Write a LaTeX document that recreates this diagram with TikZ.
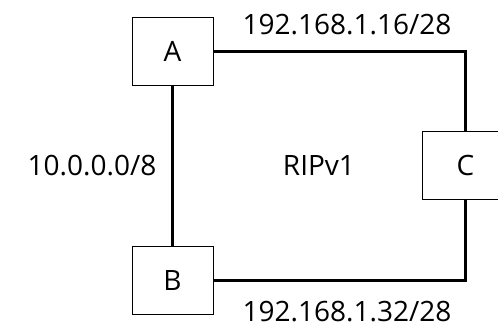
\documentclass[tikz,border=0pt]{standalone}
\usepackage{fontspec}
\setmainfont{Open Sans}
\usetikzlibrary{positioning, calc}
\tikzset{
  router/.style={rectangle, draw, line width=0.8pt, minimum width=81pt, minimum height=68pt,
                 inner sep=0pt, font=\fontsize{28}{32}\selectfont},
  link/.style={line width=3.5pt},
  lbl/.style={font=\fontsize{28}{32}\selectfont, inner sep=0pt},
}

\begin{document}
\begin{tikzpicture}[x=1pt, y=1pt]
  \useasboundingbox (0,0) rectangle (498,327);
  \node[router] (ra) at (172.5,275.5) {A};
  \node[router, below=160pt of ra] (rb) {B};
  \coordinate (mid) at ($(ra)!0.5!(rb)$);
  \node[router, minimum width=86pt, right=249.5pt of mid] (rc) {C};
  \coordinate (ne) at (rc.north |- ra.east);
  \coordinate (se) at (rc.south |- rb.east);

  \draw[link] (ra.east) -- node[lbl, pos=0.53, anchor=base, yshift=16.7pt] (nettop) {192.168.1.16/28} (ne) -- (rc.north);
  \draw[link] (rc.south) -- (se) -- node[lbl, pos=0.47, anchor=base, yshift=-41pt] (netbot) {192.168.1.32/28} (rb.east);
  \draw[link] (ra.south) -- (rb.north);

  \node[lbl, left=16pt of mid] (netlan) {10.0.0.0/8};
  \node[lbl] (proto) at ($(mid)!0.5!(mid -| rc.north)$) {RIPv1};
\end{tikzpicture}
\end{document}
